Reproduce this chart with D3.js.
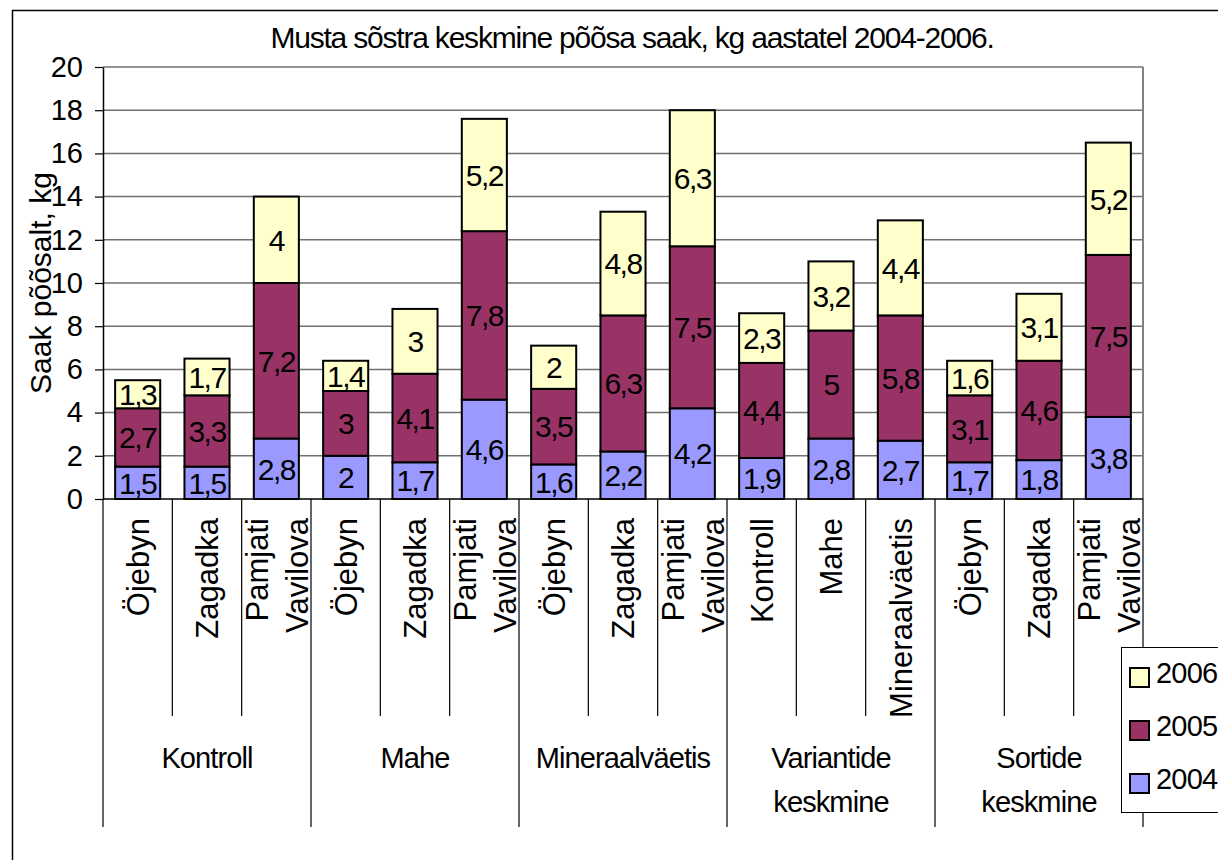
<!DOCTYPE html>
<html>
<head>
<meta charset="utf-8">
<script src="https://cdn.jsdelivr.net/npm/d3@7"></script>
<style>
    body { margin: 0; background: #fff; }
    text { font-family: "Liberation Sans", Arial, sans-serif; fill: #000; }
</style>
</head>
<body>
<svg id="chart" width="1218" height="860"></svg>
<script>
var TITLE = "Musta sõstra keskmine põõsa saak, kg aastatel 2004-2006.";
var Y_TITLE = "Saak põõsalt, kg";

// sub-categories (rotated labels), their group index, and the group labels
var categoryLabels = [
    ["Öjebyn"], ["Zagadka"], ["Pamjati", "Vavilova"],
    ["Öjebyn"], ["Zagadka"], ["Pamjati", "Vavilova"],
    ["Öjebyn"], ["Zagadka"], ["Pamjati", "Vavilova"],
    ["Kontroll"], ["Mahe"], ["Mineraalväetis"],
    ["Öjebyn"], ["Zagadka"], ["Pamjati", "Vavilova"]
];
var categoryGroup = [0, 0, 0, 1, 1, 1, 2, 2, 2, 3, 3, 3, 4, 4, 4];
var groupLabels = [
    ["Kontroll"], ["Mahe"], ["Mineraalväetis"],
    ["Variantide", "keskmine"], ["Sortide", "keskmine"]
];

// series, bottom to top
var s2004 = [1.5, 1.5, 2.8, 2, 1.7, 4.6, 1.6, 2.2, 4.2, 1.9, 2.8, 2.7, 1.7, 1.8, 3.8];
var s2005 = [2.7, 3.3, 7.2, 3, 4.1, 7.8, 3.5, 6.3, 7.5, 4.4, 5, 5.8, 3.1, 4.6, 7.5];
var s2006 = [1.3, 1.7, 4, 1.4, 3, 5.2, 2, 4.8, 6.3, 2.3, 3.2, 4.4, 1.6, 3.1, 5.2];

var seriesNames = ["2004", "2005", "2006"];
var seriesColors = ["#9999ff", "#993366", "#ffffcc"];
var yTicks = [0, 2, 4, 6, 8, 10, 12, 14, 16, 18, 20];

var svg = d3.select("#chart");
var plot = { left: 103, right: 1143, top: 67, bottom: 499 };

var rows = categoryLabels.map(function (lab, i) {
    return { key: i, "2004": s2004[i], "2005": s2005[i], "2006": s2006[i] };
});
var keys = rows.map(function (d) { return d.key; });

var xCat = d3.scaleBand().domain(keys).range([plot.left, plot.right]).padding(0);
var x = d3.scaleBand().domain(keys).range([plot.left, plot.right])
    .paddingInner(0.35).paddingOuter(0.175);
var y = d3.scaleLinear().domain([0, 20]).range([plot.bottom, plot.top]);

var fmt = d3.formatLocale({ decimal: ",", thousands: " ", grouping: [3], currency: ["", ""] }).format("~g");

// outer chart border
svg.append("rect")
    .attr("x", 12.5).attr("y", 10.5)
    .attr("width", 1300).attr("height", 900)
    .attr("fill", "#fff").attr("stroke", "#000").attr("stroke-width", 1.5);

// title
svg.append("text")
    .attr("x", 632).attr("y", 48)
    .attr("text-anchor", "middle")
    .style("font-size", "30px")
    .style("letter-spacing", "-1.2px")
    .text(TITLE);

// gridlines
svg.append("g").selectAll("line")
    .data(yTicks.filter(function (t) { return t > 0; }))
    .enter().append("line")
    .attr("x1", plot.left).attr("x2", plot.right)
    .attr("y1", function (d) { return y(d); })
    .attr("y2", function (d) { return y(d); })
    .attr("stroke", "#707070").attr("stroke-width", 1.5);

// plot area right border
svg.append("line")
    .attr("x1", plot.right).attr("x2", plot.right)
    .attr("y1", plot.top).attr("y2", plot.bottom)
    .attr("stroke", "#808080").attr("stroke-width", 2);

// y axis
var yAxis = svg.append("g")
    .attr("transform", "translate(" + plot.left + ",0)")
    .call(d3.axisLeft(y).tickValues(yTicks).tickSize(8).tickSizeOuter(0).tickPadding(12));
yAxis.select(".domain").attr("stroke", "#000").attr("stroke-width", 1.5);
yAxis.selectAll(".tick line").attr("stroke", "#000").attr("stroke-width", 1.2);
yAxis.selectAll(".tick text")
    .style("font-size", "29px")
    .style("font-family", "'Liberation Sans', Arial, sans-serif")
    .attr("fill", "#000");

svg.append("text")
    .attr("transform", "translate(51," + ((plot.top + plot.bottom) / 2) + ") rotate(-90)")
    .attr("text-anchor", "middle")
    .style("font-size", "30px")
    .text(Y_TITLE);

// stacked bars
var stack = d3.stack().keys(seriesNames)(rows);

var layers = svg.append("g").selectAll("g.layer")
    .data(stack)
    .enter().append("g")
    .attr("class", "layer")
    .attr("fill", function (d, i) { return seriesColors[i]; });

layers.selectAll("rect")
    .data(function (d) { return d; })
    .enter().append("rect")
    .attr("x", function (d) { return x(d.data.key); })
    .attr("width", x.bandwidth())
    .attr("y", function (d) { return y(d[1]); })
    .attr("height", function (d) { return y(d[0]) - y(d[1]); })
    .attr("stroke", "#000").attr("stroke-width", 2);

layers.selectAll("text")
    .data(function (d) { return d; })
    .enter().append("text")
    .attr("x", function (d) { return x(d.data.key) + x.bandwidth() / 2; })
    .attr("y", function (d) { return (y(d[0]) + y(d[1])) / 2; })
    .attr("dy", "0.36em")
    .attr("text-anchor", "middle")
    .style("font-size", "30px")
    .style("letter-spacing", "-1.5px")
    .text(function (d) { return fmt(d[1] - d[0]); });

// category axis: baseline, separators, labels
svg.append("line")
    .attr("x1", plot.left).attr("x2", plot.right)
    .attr("y1", plot.bottom).attr("y2", plot.bottom)
    .attr("stroke", "#000").attr("stroke-width", 1.5);

var sepY = { inner: 716, group: 827 };
var seps = keys.map(function (k, i) {
    var first = i === 0 || categoryGroup[i] !== categoryGroup[i - 1];
    return { x: xCat(k), bottom: first ? sepY.group : sepY.inner };
});
seps.push({ x: plot.right, bottom: sepY.group });

svg.append("g").selectAll("line")
    .data(seps)
    .enter().append("line")
    .attr("x1", function (d) { return d.x; })
    .attr("x2", function (d) { return d.x; })
    .attr("y1", plot.bottom)
    .attr("y2", function (d) { return d.bottom; })
    .attr("stroke", "#000").attr("stroke-width", 1.2);

var catLabel = svg.append("g").selectAll("g")
    .data(keys)
    .enter().append("g")
    .attr("transform", function (k) {
        return "translate(" + (xCat(k) + xCat.bandwidth() / 2) + ",518) rotate(-90)";
    });

catLabel.each(function (k) {
    var lines = categoryLabels[k];
    var lh = 40;
    d3.select(this).selectAll("text")
        .data(lines)
        .enter().append("text")
        .attr("x", 0)
        .attr("y", function (d, j) { return (j - (lines.length - 1) / 2) * lh; })
        .attr("dy", "0.37em")
        .attr("text-anchor", "end")
        .style("font-size", "31px")
        .text(function (d) { return d; });
});

// group labels
svg.append("g").selectAll("text")
    .data(groupLabels)
    .enter().append("text")
    .attr("x", function (d, g) {
        var idx = keys.filter(function (k) { return categoryGroup[k] === g; });
        return (xCat(idx[0]) + xCat(idx[idx.length - 1]) + xCat.bandwidth()) / 2;
    })
    .attr("y", 768)
    .attr("text-anchor", "middle")
    .style("font-size", "29px")
    .style("letter-spacing", "-0.9px")
    .each(function (lines) {
        var t = d3.select(this);
        lines.forEach(function (l, j) {
            t.append("tspan")
                .attr("x", t.attr("x"))
                .attr("dy", j === 0 ? 0 : 44)
                .text(l);
        });
    });

// legend
var legend = svg.append("g").attr("transform", "translate(1121,647)");
legend.append("rect")
    .attr("x", 0.5).attr("y", 0.5)
    .attr("width", 120).attr("height", 165)
    .attr("fill", "#fff").attr("stroke", "#000").attr("stroke-width", 1);

var legendItems = legend.selectAll("g.item")
    .data(seriesNames.slice().reverse())
    .enter().append("g")
    .attr("class", "item")
    .attr("transform", function (d, i) { return "translate(9," + (21 + i * 53) + ")"; });

legendItems.append("rect")
    .attr("width", 19).attr("height", 19)
    .attr("fill", function (d) { return seriesColors[seriesNames.indexOf(d)]; })
    .attr("stroke", "#000").attr("stroke-width", 2);

legendItems.append("text")
    .attr("x", 26).attr("y", 15)
    .style("font-size", "29px")
    .style("letter-spacing", "-0.8px")
    .text(function (d) { return d; });
</script>
</body>
</html>
